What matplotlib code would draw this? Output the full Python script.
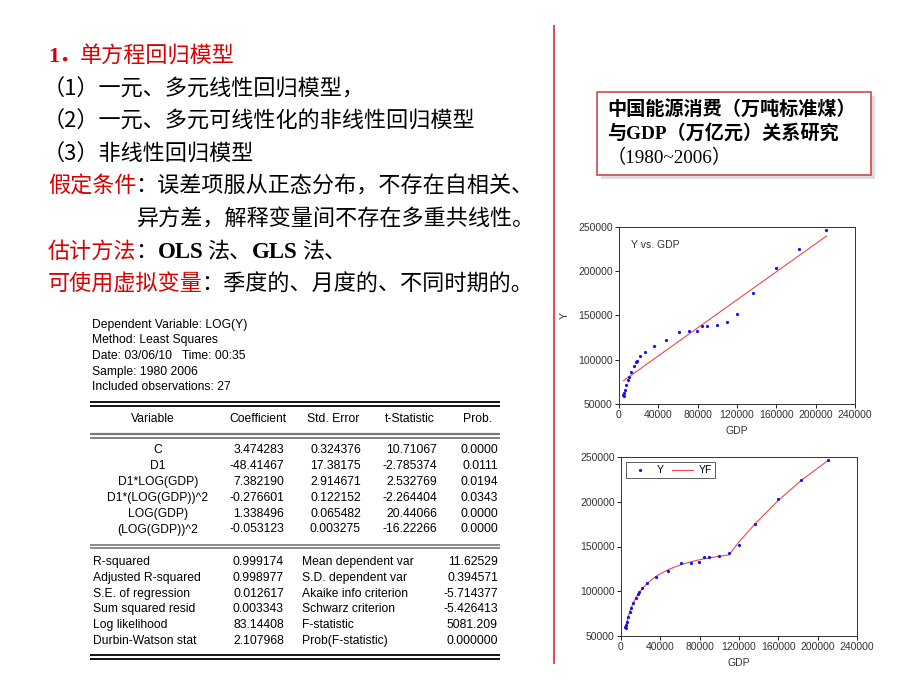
import numpy as np
import matplotlib
matplotlib.use("Agg")
import matplotlib.pyplot as plt
from matplotlib.patches import Rectangle
from matplotlib.lines import Line2D

# --- data ---
gdp = [4545, 4891, 5323, 5963, 7208, 9016, 10275, 12059, 15043, 16992, 18668,
       21781, 26923, 35334, 48198, 60794, 71177, 78973, 84402, 89677, 99215,
       109655, 120333, 135823, 159878, 183085, 210871]
energy = [60300, 59400, 62000, 66000, 71000, 76700, 80900, 86600, 93000, 97000,
          98700, 103800, 109200, 116000, 122700, 131200, 132000, 132200, 138000,
          138500, 139000, 143200, 151800, 175000, 203200, 224700, 246300]
energy_fit = [58600, 60600, 62800, 65900, 71100, 77500, 81300, 85900, 92400,
              96000, 98700, 103100, 109100, 116500, 124300, 129600, 132900,
              135000, 136200, 137300, 139000, 140500, 155500, 174700, 201400,
              223700, 246400]
lin_intercept = 72700
lin_slope = 0.792

x_ticks = [0, 40000, 80000, 120000, 160000, 200000, 240000]
y_ticks = [50000, 100000, 150000, 200000, 250000]

header_lines = ["Dependent Variable: LOG(Y)", "Method: Least Squares",
                "Date: 03/06/10   Time: 00:35", "Sample: 1980 2006",
                "Included observations: 27"]
col_names = ["Variable", "Coefficient", "Std. Error", "t-Statistic", "Prob."]
variables = ["C", "D1", "D1*LOG(GDP)", "D1*(LOG(GDP))^2", "LOG(GDP)", "(LOG(GDP))^2"]
coefs = ["3.474283", "-48.41467", "7.382190", "-0.276601", "1.338496", "-0.053123"]
std_errs = ["0.324376", "17.38175", "2.914671", "0.122152", "0.065482", "0.003275"]
t_stats = ["10.71067", "-2.785374", "2.532769", "-2.264404", "20.44066", "-16.22266"]
probs = ["0.0000", "0.0111", "0.0194", "0.0343", "0.0000", "0.0000"]
stat_names_l = ["R-squared", "Adjusted R-squared", "S.E. of regression",
                "Sum squared resid", "Log likelihood", "Durbin-Watson stat"]
stat_vals_l = ["0.999174", "0.998977", "0.012617", "0.003343", "83.14408", "2.107968"]
stat_names_r = ["Mean dependent var", "S.D. dependent var", "Akaike info criterion",
                "Schwarz criterion", "F-statistic", "Prob(F-statistic)"]
stat_vals_r = ["11.62529", "0.394571", "-5.714377", "-5.426413", "5081.209", "0.000000"]

# --- figure in pixel units ---
W, H = 920, 690
fig = plt.figure(figsize=(W / 100, H / 100), dpi=100)
fig.patch.set_facecolor("white")

ov = fig.add_axes([0, 0, 1, 1])
ov.set_xlim(0, W)
ov.set_ylim(H, 0)
ov.axis("off")

CJK = ["Noto Sans CJK SC", "DejaVu Sans"]
RED = "#d80000"
FS = 15.9


def txt(x, y, s, color="black", size=FS, family=CJK, weight="normal", ha="left"):
    ov.text(x, y, s, color=color, fontsize=size, family=family,
            fontweight=weight, ha=ha, va="center")


# left text block
txt(48, 57, "1．", color=RED, family=["Liberation Serif"] + CJK, weight="bold")
txt(80, 57, "单方程回归模型", color=RED)
txt(43, 90, "（1）一元、多元线性回归模型，")
txt(43, 122, "（2）一元、多元可线性化的非线性回归模型")
txt(43, 155, "（3）非线性回归模型")
txt(48, 187, "假定条件", color=RED)
txt(135, 187, "：误差项服从正态分布，不存在自相关、")
txt(137, 220, "异方差，解释变量间不存在多重共线性。")
txt(48, 252, "估计方法", color=RED)
txt(135, 252, "：")
txt(158, 252, "OLS", family=["Liberation Serif"], weight="bold", size=16.5)
txt(207, 252, "法、")
txt(252, 252, "GLS", family=["Liberation Serif"], weight="bold", size=16.5)
txt(302, 252, "法、")
txt(48, 285, "可使用虚拟变量", color=RED)
txt(201, 285, "：季度的、月度的、不同时期的。")

# divider
ov.plot([554, 554], [26, 663], color="#e03a3a", lw=1.3)

# title box with shadow
ov.add_patch(Rectangle((601, 96), 274, 83, facecolor="#dddddd", edgecolor="none"))
ov.add_patch(Rectangle((597, 92), 274, 83, facecolor="white", edgecolor="#d04848", lw=1.2))
txt(607, 110, "中国能源消费（万吨标准煤）", size=13.8, weight="bold")
txt(607, 133, "与GDP（万亿元）关系研究", size=13.8, weight="bold",
    family=["Liberation Serif"] + CJK)
txt(607, 158, "（1980~2006）", size=13.8, family=["Liberation Serif"] + CJK)

# regression output
TF = ["Liberation Sans", "DejaVu Sans"]
TS = 8.7
for i, line in enumerate(header_lines):
    txt(92, 325 + i * 15.5, line, size=TS, family=TF)


def hline(y, color="black", lw=1.0):
    ov.plot([90, 500], [y, y], color=color, lw=lw, solid_capstyle="butt")


hline(402, lw=1.3)
hline(406, lw=1.3)
hline(434, color="#777777", lw=1.6)
hline(438, color="#777777", lw=1.3)
hline(545, color="#777777", lw=1.2)
hline(548, color="#777777", lw=1.2)
hline(655, lw=1.3)
hline(659, lw=1.3)

col_centers = [153, 258, 333, 410, 478]
for cx, name in zip(col_centers, col_names):
    txt(cx, 419, name, size=TS, family=TF, ha="center")

right_edges = [284, 361, 437, 498]
for i in range(len(variables)):
    y = 450 + i * 15.9
    txt(158, y, variables[i], size=TS, family=TF, ha="center")
    for rx, col in zip(right_edges, [coefs, std_errs, t_stats, probs]):
        txt(rx, y, col[i], size=TS, family=TF, ha="right")

for i in range(len(stat_names_l)):
    y = 562 + i * 15.8
    txt(93, y, stat_names_l[i], size=TS, family=TF)
    txt(284, y, stat_vals_l[i], size=TS, family=TF, ha="right")
    txt(302, y, stat_names_r[i], size=TS, family=TF)
    txt(498, y, stat_vals_r[i], size=TS, family=TF, ha="right")


# --- charts ---
def px_axes(l, t, r, b):
    return fig.add_axes([l / W, 1 - b / H, (r - l) / W, (b - t) / H])


def style(ax):
    ax.set_xlim(0, 240000)
    ax.set_ylim(50000, 250000)
    ax.set_xticks(x_ticks)
    ax.set_yticks(y_ticks)
    ax.tick_params(labelsize=7.5, length=3, width=0.6, pad=1.5)
    for lab in ax.get_xticklabels() + ax.get_yticklabels():
        lab.set_family(TF)
        lab.set_color("#333333")
    for sp in ax.spines.values():
        sp.set_linewidth(0.7)
        sp.set_color("#333333")
    ax.set_xlabel("GDP", fontsize=7.5, family=TF, color="#333333", labelpad=4)


gdp_arr = np.array(gdp)

ax1 = px_axes(619, 227, 855, 404)
style(ax1)
ax1.plot(gdp_arr, lin_intercept + lin_slope * gdp_arr, color="#f04848", lw=0.8)
ax1.plot(gdp, energy, ls="none", marker="o", ms=2.3, color="#1010ff", mec="none")
ax1.text(0.05, 0.88, "Y vs. GDP", transform=ax1.transAxes, fontsize=7.5,
         family=TF, color="#333333")
ax1.set_ylabel("Y", fontsize=7.5, family=TF, color="#333333", labelpad=6)

ax2 = px_axes(621, 457, 857, 636)
style(ax2)
ax2.plot(gdp, energy_fit, color="#f04848", lw=0.8)
ax2.plot(gdp, energy, ls="none", marker="o", ms=2.3, color="#1010ff", mec="none")
handles = [Line2D([], [], ls="none", marker="o", ms=2.3, color="#1010ff", mec="none"),
           Line2D([], [], color="#f04848", lw=0.8)]
leg = ax2.legend(handles, ["Y", "YF"], loc="upper left", ncol=2,
                 frameon=True, fancybox=False, borderpad=0.3, handlelength=2.0,
                 handletextpad=0.6, columnspacing=0.8, borderaxespad=0.5,
                 prop={"family": TF, "size": 7.5})
leg.get_frame().set_edgecolor("#333333")
leg.get_frame().set_linewidth(0.7)

fig.savefig("out.png", dpi=100)
